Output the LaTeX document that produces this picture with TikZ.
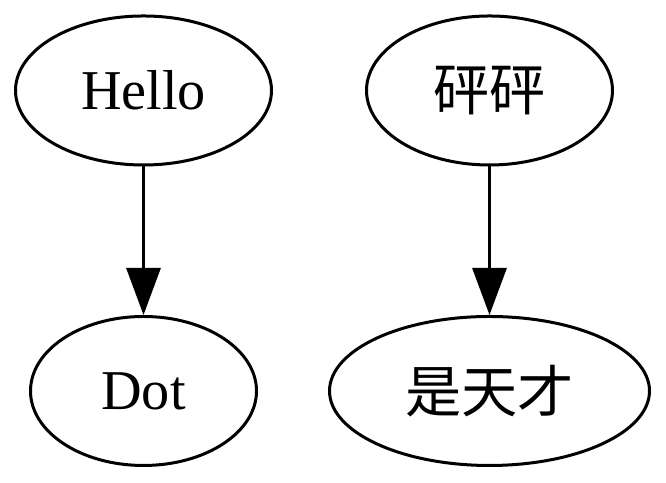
\documentclass[tikz,border=0pt]{standalone}
\usepackage{fontspec}
\setmainfont{Liberation Serif}
\newfontfamily\cjk{Noto Sans CJK SC}
\usetikzlibrary{shapes.geometric}
\usetikzlibrary{arrows.meta}

\begin{document}
\begin{tikzpicture}[x=0.1mm,y=-0.1mm,
    vertex/.style={draw, ellipse, line width=0.3mm, inner sep=0pt,
        minimum height=14.9mm, font=\fontsize{16}{19}\selectfont},
    edge/.style={line width=0.3mm, -{Triangle[length=4.7mm,width=3.4mm]}}]

    \useasboundingbox (0, 0) rectangle (666, 483);

    % Left pair
    \node[vertex, minimum width=25.6mm] (hello) at (143.5, 90.5) {Hello};
    \node[vertex, minimum width=22.6mm] (dot) at (143.5, 391) {Dot};
    \draw[edge] (hello) -- (dot);

    % Right pair
    \node[vertex, minimum width=24.6mm] (pengpeng) at (489.5, 90.5) {\cjk 砰砰};
    \node[vertex, minimum width=32mm] (genius) at (489.5, 391) {\cjk 是天才};
    \draw[edge] (pengpeng) -- (genius);
\end{tikzpicture}
\end{document}
